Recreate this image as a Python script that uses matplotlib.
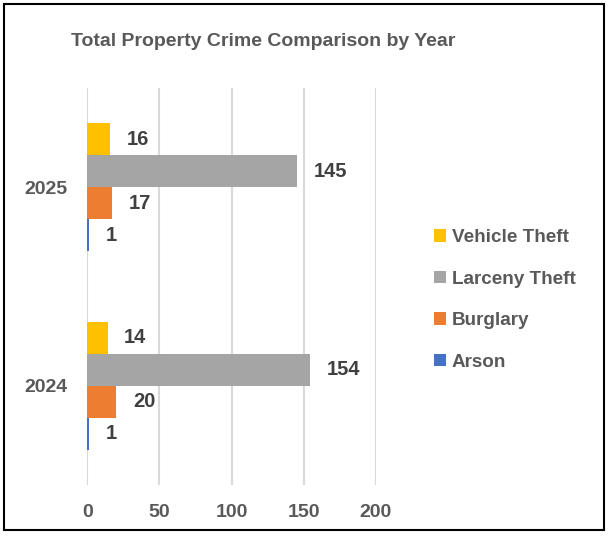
import matplotlib
matplotlib.use("Agg")
import matplotlib.pyplot as plt
from matplotlib.patches import Rectangle, Patch
import numpy as np

years = ["2024", "2025"]
series = ["Vehicle Theft", "Larceny Theft", "Burglary", "Arson"]
vehicle_theft = [14, 16]
larceny_theft = [154, 145]
burglary = [20, 17]
arson = [1, 1]
values = [vehicle_theft, larceny_theft, burglary, arson]
colors = ["#FFC000", "#A5A5A5", "#ED7D31", "#4472C4"]
x_ticks = [0, 50, 100, 150, 200]

W, H = 609, 541
fig = plt.figure(figsize=(W / 100, H / 100), dpi=100)
plt.rcParams['font.family'] = ['Liberation Sans', 'DejaVu Sans']

ax = fig.add_axes([87.3 / W, 1 - 485 / H, 288.7 / W, 397 / H])

y = np.arange(len(years))
bar_h = 0.161
n = len(series)
for i, (name, vals, c) in enumerate(zip(series, values, colors)):
    offset = (n - 1) / 2 * bar_h - i * bar_h
    bars = ax.barh(y + offset, vals, height=bar_h, color=c, label=name, zorder=3)
    for b, v in zip(bars, vals):
        ax.annotate(str(v), (b.get_width(), b.get_y() + b.get_height() / 2),
                    xytext=(12, 0), textcoords="offset points",
                    ha="left", va="center", fontsize=14.5, fontweight="bold",
                    color="#404040")

ax.set_xlim(0, 200)
ax.set_ylim(-0.5, 1.5)
ax.set_xticks(x_ticks)
ax.set_xticklabels([str(t) for t in x_ticks])
ax.set_yticks(y)
ax.set_yticklabels(years)
for s in ax.spines.values():
    s.set_visible(False)
ax.tick_params(axis="both", length=0, labelsize=14, labelcolor="#595959")
ax.tick_params(axis="x", pad=14)
ax.tick_params(axis="y", pad=14.5)
for lab in ax.get_xticklabels() + ax.get_yticklabels():
    lab.set_fontweight("bold")
ax.grid(axis="x", color="#D9D9D9", linewidth=1.5, zorder=0)
ax.set_axisbelow(True)

fig.text(263 / W, 1 - 41 / H, "Total Property Crime Comparison by Year",
         ha="center", va="center", fontsize=14, fontweight="bold", color="#595959")

handles = [Patch(facecolor=c, label=s) for s, c in zip(series, colors)]
leg = fig.legend(handles=handles, loc="center left",
                 bbox_to_anchor=(417 / W, 1 - 300 / H), frameon=False,
                 handlelength=0.64, handleheight=0.64, handletextpad=0.3,
                 labelspacing=1.30, fontsize=13.6, labelcolor="#595959")
for t in leg.get_texts():
    t.set_fontweight("bold")

fig.patches.append(Rectangle((4 / W, 1 - 530 / H), 600 / W, 526 / H,
                             transform=fig.transFigure, fill=False,
                             edgecolor="black", linewidth=1.5))

fig.savefig("out.png", dpi=100)
